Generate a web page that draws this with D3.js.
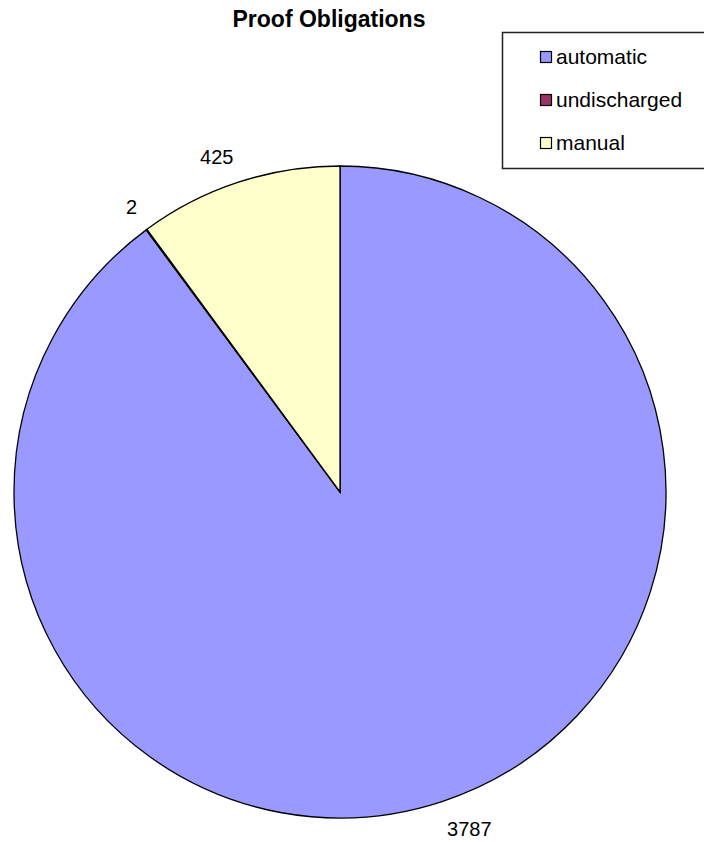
<!DOCTYPE html>
<html>
<head>
<meta charset="utf-8">
<script src="https://cdn.jsdelivr.net/npm/d3@7"></script>
<style>
  body { margin: 0; background: #fff; }
  svg { display: block; font-family: "Liberation Sans", Arial, sans-serif; }
</style>
</head>
<body>
<div id="chart"></div>
<script>
const categories = ['automatic', 'undischarged', 'manual'];
const values = [3787, 2, 425];
const colors = ['#9999ff', '#993366', '#ffffcc'];

const W = 704, H = 842;
const cx = 340, cy = 492, r = 326;

const svg = d3.select('#chart').append('svg')
  .attr('width', W).attr('height', H);

svg.append('text')
  .attr('x', 329).attr('y', 27)
  .attr('text-anchor', 'middle')
  .attr('font-size', '23px').attr('font-weight', 'bold')
  .text('Proof Obligations');

const pie = d3.pie().sort(null).value(d => d.v);
const arcs = pie(categories.map((c, i) => ({ c, v: values[i], col: colors[i] })));
const arc = d3.arc().innerRadius(0).outerRadius(r);
const labelArc = d3.arc().innerRadius(342).outerRadius(342);

const g = svg.append('g').attr('transform', `translate(${cx},${cy})`);

g.selectAll('path')
  .data(arcs)
  .join('path')
  .attr('d', arc)
  .attr('fill', d => d.data.col)
  .attr('stroke', '#000')
  .attr('stroke-width', 1.3);

// labels sit just outside the rim, pushed away from the pie
g.selectAll('text')
  .data(arcs)
  .join('text')
  .each(function(d) {
    const [x, y] = labelArc.centroid(d);
    const mid = (d.startAngle + d.endAngle) / 2;
    const up = Math.cos(mid) > 0;
    d3.select(this)
      .attr('x', x)
      .attr('y', y + (up ? -10 : 12))
      .attr('text-anchor', Math.sin(mid) < 0 ? 'end' : 'start');
  })
  .attr('dy', '0.35em')
  .attr('font-size', '20px')
  .attr('fill', '#000')
  .text(d => d.data.v);

// Legend
const legend = svg.append('g');
legend.append('rect')
  .attr('x', 502.5).attr('y', 32.5)
  .attr('width', 210).attr('height', 136)
  .attr('fill', '#fff').attr('stroke', '#222').attr('stroke-width', 1.5);

const item = legend.selectAll('g.item')
  .data(categories)
  .join('g')
  .attr('class', 'item')
  .attr('transform', (d, i) => `translate(540,${57 + i * 43})`);

item.append('rect')
  .attr('x', 0.5).attr('y', -5.5)
  .attr('width', 11).attr('height', 11)
  .attr('fill', (d, i) => colors[i])
  .attr('stroke', '#000').attr('stroke-width', 1.2);

item.append('text')
  .attr('x', 16).attr('dy', '0.35em')
  .attr('font-size', '21px')
  .text(d => d);
</script>
</body>
</html>
